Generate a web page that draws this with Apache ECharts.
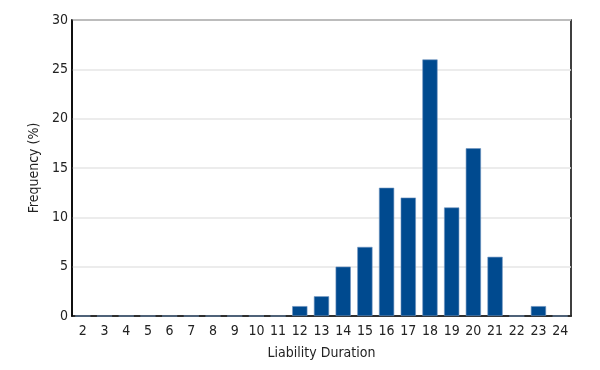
<!DOCTYPE html>
<html><head><meta charset="utf-8">
<script src="https://cdn.jsdelivr.net/npm/echarts@6/dist/echarts.min.js"></script>
<style>html,body{margin:0;padding:0;background:#fff}#c{width:600px;height:370px}</style>
</head><body><div id="c"></div>
<script>
const categories = ['2','3','4','5','6','7','8','9','10','11','12','13','14','15','16','17','18','19','20','21','22','23','24'];
const frequency = [0,0,0,0,0,0,0,0,0,0,1,2,5,7,13,12,26,11,17,6,0,1,0];
const yTicks = [0,5,10,15,20,25,30];

const font = '"DejaVu Sans Condensed", sans-serif';
const chart = echarts.init(document.getElementById('c'));
chart.setOption({
  animation: false,
  grid: {left: 72, right: 29, top: 20, bottom: 54, show: true, borderColor: '#000', borderWidth: 1.5},
  xAxis: {
    type: 'category', data: categories,
    name: 'Liability Duration', nameLocation: 'middle', nameGap: 30,
    nameTextStyle: {fontFamily: font, fontSize: 14, color: '#222'},
    axisLine: {lineStyle: {color: '#000', width: 1.5}},
    axisTick: {alignWithLabel: false, length: 5, lineStyle: {color: '#000'}},
    axisLabel: {fontFamily: font, fontSize: 14, color: '#222', interval: 0, margin: 8}
  },
  yAxis: {
    type: 'value', min: yTicks[0], max: yTicks[yTicks.length-1], interval: 5,
    name: 'Frequency (%)', nameLocation: 'middle', nameGap: 25,
    nameTextStyle: {fontFamily: font, fontSize: 14, color: '#222'},
    axisLine: {show: true, lineStyle: {color: '#000', width: 1.5}},
    axisTick: {show: false},
    axisLabel: {fontFamily: font, fontSize: 14, color: '#222', margin: 4},
    splitLine: {lineStyle: {color: '#e6e6e6', width: 1.5}}
  },
  series: [{
    type: 'bar', data: frequency, barWidth: '70%',
    itemStyle: {color: '#004a8f', borderColor: '#6f93c0', borderWidth: 0.6}
  }]
});
</script></body></html>
